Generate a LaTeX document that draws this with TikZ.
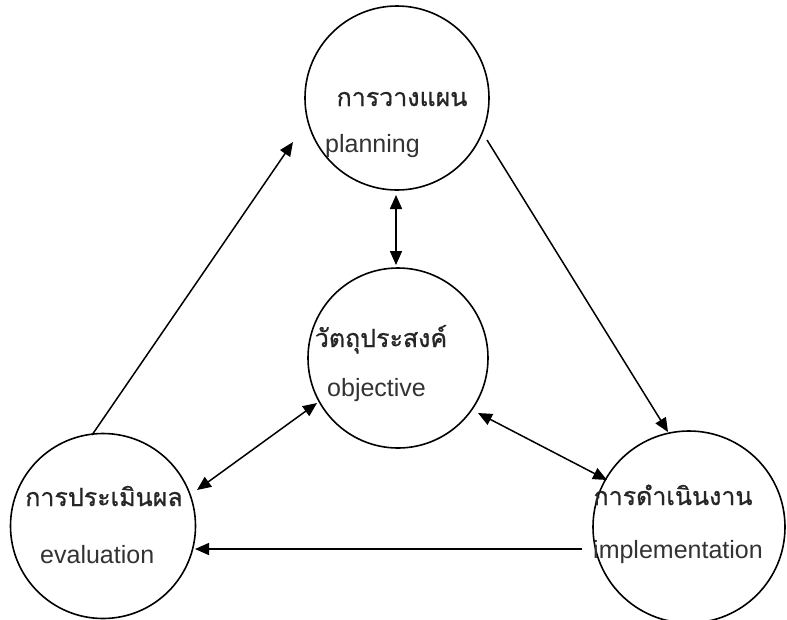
\documentclass[tikz,border=0pt]{standalone}
\usepackage{fontspec}
\setmainfont{Liberation Sans}
\newfontfamily\thaifont[Script=Thai,FakeBold=0.8]{Loma}
\usetikzlibrary{arrows.meta,calc}
\begin{document}
\begin{tikzpicture}[x=1pt,y=-1pt,
  ring/.style={draw, circle, line width=1.6pt, inner sep=0pt},
  conn/.style={line width=1.5pt, -{Triangle[length=14pt,width=12pt]}},
  biconn/.style={line width=1.5pt, {Triangle[length=14pt,width=12pt]}-{Triangle[length=14pt,width=12pt]}},
  th/.style={font=\thaifont\fontsize{25}{30}\selectfont, text=black!85, inner sep=0pt, anchor=base},
  en/.style={font=\fontsize{25}{30}\selectfont, text=black!80, inner sep=0pt, anchor=base west}]
\useasboundingbox (0,0) rectangle (787,619);
\fill[white] (0,0) rectangle (787,619);
% circles
\node[ring, minimum size=184pt] (plan) at (397,98) {};
\node[ring, minimum size=180pt] (obj) at (398,358) {};
\node[ring, minimum size=185pt] (eval) at (103,526) {};
\node[ring, minimum size=192pt] (impl) at (689,527) {};
% texts
\node[th] (planth) at (402,106) {การวางแผน};
\node[en] (planen) at (325,152) {planning};
\node[th] (objth) at (381,347) {วัตถุประสงค์};
\node[en] (objen) at (327,396) {objective};
\node[th] (evalth) at (104,506) {การประเมินผล};
\node[en] (evalen) at (40,563) {evaluation};
\node[th] (implth) at (673,505) {การดำเนินงาน};
\node[en] (implen) at (593,558) {implementation};
% connector end points
\coordinate (a1s) at ($(eval.center)+(-11,-91)$);
\coordinate (a1e) at ($(plan.center)+(-104,44)$);
\coordinate (a2s) at ($(plan.center)+(90,42)$);
\coordinate (a2e) at ($(impl.center)+(-21,-95)$);
\coordinate (a3s) at ($(plan.center)+(-1,97)$);
\coordinate (a3e) at ($(obj.center)+(-2,-93)$);
\coordinate (a4s) at ($(obj.center)+(-81,45)$);
\coordinate (a4e) at ($(eval.center)+(94,-36)$);
\coordinate (a5s) at ($(obj.center)+(80,55)$);
\coordinate (a5e) at ($(impl.center)+(-82,-47)$);
\coordinate (a6s) at ($(impl.center)+(-107,22)$);
\coordinate (a6e) at ($(eval.center)+(92,23)$);
% connectors
\draw[conn] (a1s) -- (a1e);
\draw[conn] (a2s) -- (a2e);
\draw[biconn] (a3s) -- (a3e);
\draw[biconn] (a4s) -- (a4e);
\draw[biconn] (a5s) -- (a5e);
\draw[conn] (a6s) -- (a6e);
\end{tikzpicture}
\end{document}
